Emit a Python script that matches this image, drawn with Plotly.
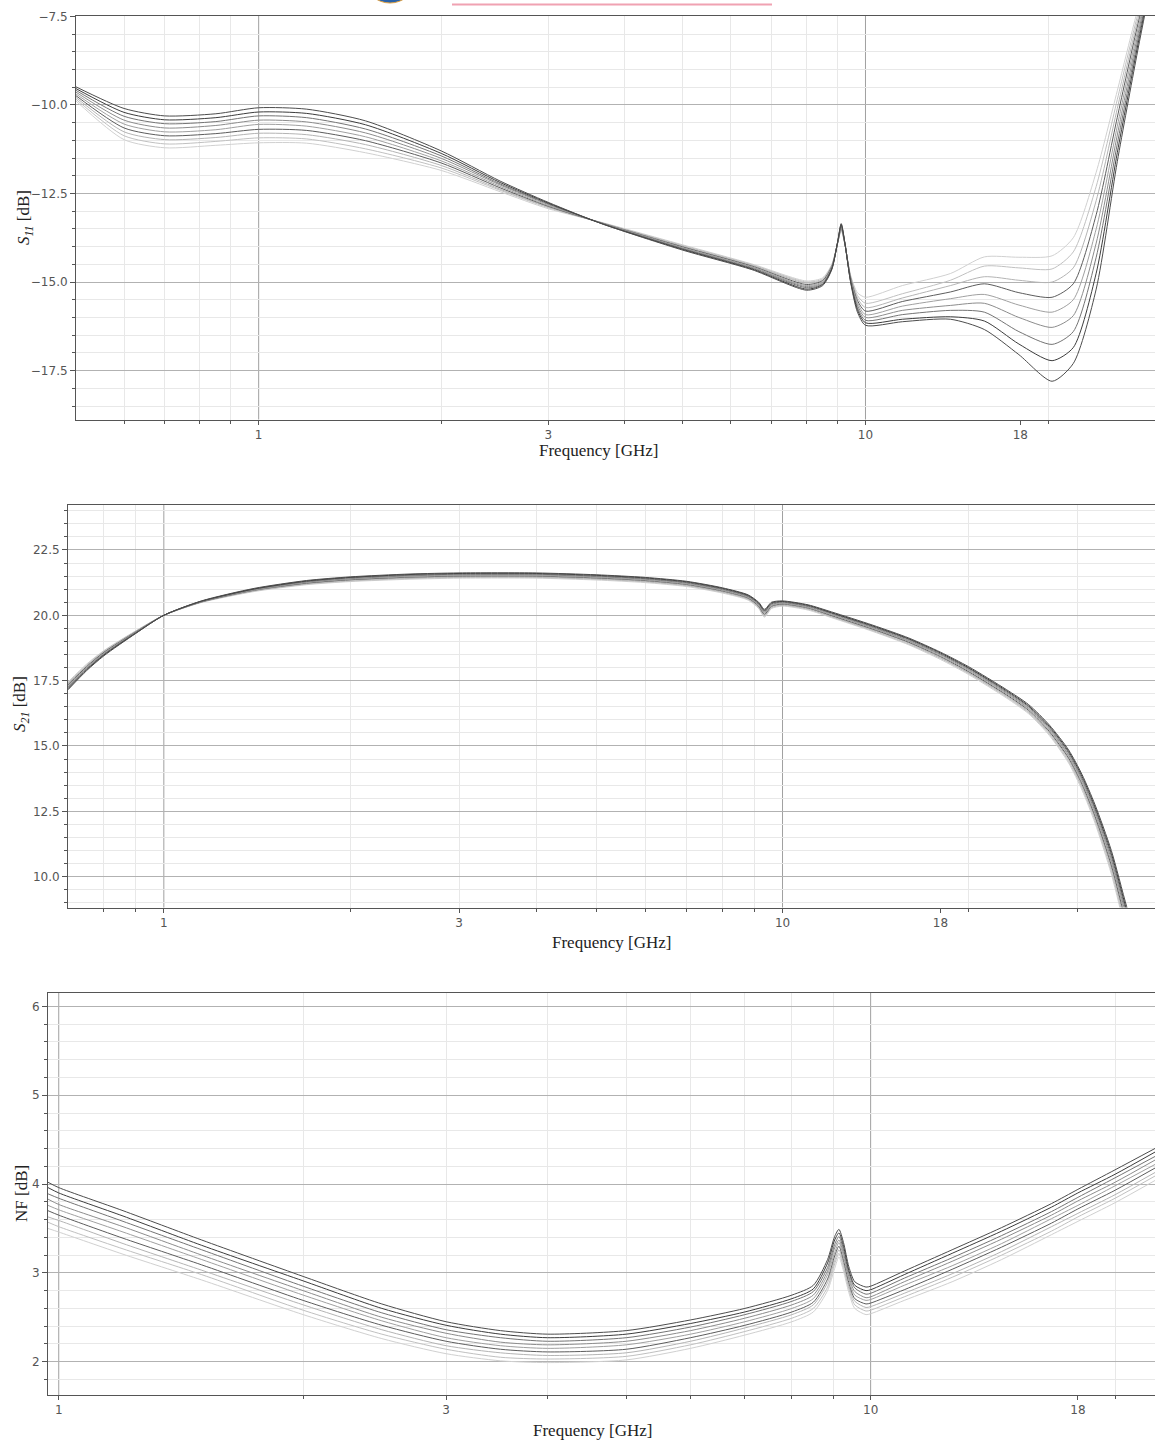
import numpy as np
import plotly.graph_objects as go

W, H = 1155, 1445

# ---------------- S11 data (GHz, dB) ----------------
f_s11 = [0.5, 0.6, 0.7, 0.85, 1.0, 1.2, 1.5, 2.0, 2.5, 3.0, 3.7, 5.0, 6.5, 8.0, 8.5, 8.8, 9.0, 9.12, 9.25,
         9.45, 9.7, 10.0, 11.5, 13.8, 15.7, 17.9, 20.3, 22.0, 24.0, 26.0, 28.0, 30.0]
s11_0 = [-9.89, -10.98, -11.21, -11.14, -11.07, -11.08, -11.35, -11.85, -12.45, -12.93, -13.33, -13.95, -14.49, -14.97, -14.88, -14.50, -13.90, -13.55, -13.95, -14.80, -15.30, -15.43, -15.10, -14.76, -14.29, -14.30, -14.26, -13.75, -11.90, -9.60, -7.40, -5.60]
s11_1 = [-9.84, -10.87, -11.10, -11.03, -10.93, -10.96, -11.24, -11.78, -12.41, -12.90, -13.34, -13.97, -14.51, -15.00, -14.91, -14.52, -13.90, -13.52, -13.94, -14.83, -15.38, -15.60, -15.33, -14.95, -14.55, -14.60, -14.63, -14.15, -12.30, -9.85, -7.55, -5.65]
s11_2 = [-9.79, -10.76, -10.98, -10.92, -10.80, -10.84, -11.12, -11.71, -12.38, -12.88, -13.34, -13.99, -14.53, -15.03, -14.94, -14.54, -13.89, -13.50, -13.94, -14.85, -15.45, -15.72, -15.45, -15.10, -14.85, -14.95, -15.00, -14.60, -12.70, -10.10, -7.70, -5.70]
s11_3 = [-9.74, -10.65, -10.87, -10.81, -10.69, -10.72, -11.01, -11.64, -12.34, -12.86, -13.35, -14.01, -14.55, -15.07, -14.96, -14.56, -13.89, -13.47, -13.93, -14.88, -15.52, -15.82, -15.55, -15.28, -15.05, -15.30, -15.43, -15.05, -13.10, -10.35, -7.85, -5.75]
s11_4 = [-9.69, -10.54, -10.76, -10.70, -10.55, -10.60, -10.90, -11.58, -12.30, -12.84, -13.35, -14.03, -14.57, -15.10, -14.99, -14.58, -13.88, -13.45, -13.92, -14.90, -15.58, -15.92, -15.68, -15.47, -15.35, -15.65, -15.85, -15.50, -13.50, -10.60, -8.00, -5.80]
s11_5 = [-9.64, -10.43, -10.65, -10.58, -10.43, -10.48, -10.79, -11.51, -12.26, -12.81, -13.36, -14.05, -14.59, -15.13, -15.02, -14.60, -13.87, -13.42, -13.92, -14.93, -15.65, -16.00, -15.80, -15.66, -15.60, -16.00, -16.28, -15.95, -13.90, -10.85, -8.15, -5.85]
s11_6 = [-9.59, -10.32, -10.53, -10.47, -10.31, -10.36, -10.68, -11.44, -12.23, -12.79, -13.36, -14.06, -14.61, -15.16, -15.05, -14.61, -13.87, -13.40, -13.91, -14.95, -15.72, -16.08, -15.92, -15.80, -15.85, -16.40, -16.76, -16.40, -14.30, -11.10, -8.30, -5.90]
s11_7 = [-9.54, -10.21, -10.42, -10.36, -10.20, -10.24, -10.56, -11.37, -12.19, -12.77, -13.37, -14.08, -14.63, -15.20, -15.07, -14.63, -13.86, -13.37, -13.91, -14.98, -15.78, -16.15, -16.05, -15.98, -16.10, -16.75, -17.22, -16.85, -14.75, -11.35, -8.45, -5.95]
s11_8 = [-9.49, -10.10, -10.31, -10.25, -10.08, -10.12, -10.45, -11.30, -12.15, -12.75, -13.37, -14.10, -14.65, -15.23, -15.10, -14.65, -13.85, -13.35, -13.90, -15.00, -15.85, -16.22, -16.12, -16.05, -16.34, -17.05, -17.80, -17.30, -15.20, -11.60, -8.60, -6.00]

# ---------------- S21 data ----------------
f_s21 = [0.7, 0.75, 0.8, 0.9, 1.0, 1.15, 1.4, 1.7, 2.0, 2.5, 3.0, 4.0, 5.0, 6.0, 7.0, 8.0, 8.8, 9.15, 9.35, 9.6,
         10.0, 11.0, 12.0, 14.0, 16.0, 18.0, 20.0, 23.0, 25.0, 27.0, 29.0, 30.5, 32.0, 34.0, 36.0, 38.0]
s21_0 = [17.45, 18.13, 18.65, 19.40, 20.00, 20.49, 20.91, 21.17, 21.29, 21.38, 21.42, 21.42, 21.35, 21.25, 21.10, 20.85, 20.58, 20.26, 19.93, 20.26, 20.35, 20.20, 19.91, 19.38, 18.87, 18.31, 17.73, 16.84, 16.23, 15.40, 14.35, 13.30, 12.05, 10.10, 7.75, 5.65]
s21_1 = [17.41, 18.09, 18.63, 19.39, 20.00, 20.50, 20.93, 21.19, 21.31, 21.41, 21.45, 21.45, 21.38, 21.28, 21.13, 20.88, 20.61, 20.29, 19.97, 20.29, 20.38, 20.23, 19.94, 19.41, 18.90, 18.35, 17.77, 16.88, 16.27, 15.45, 14.41, 13.38, 12.14, 10.21, 7.89, 5.81]
s21_2 = [17.38, 18.06, 18.60, 19.37, 20.00, 20.51, 20.94, 21.21, 21.34, 21.43, 21.47, 21.47, 21.40, 21.30, 21.15, 20.90, 20.63, 20.32, 20.00, 20.32, 20.40, 20.25, 19.96, 19.44, 18.94, 18.38, 17.80, 16.92, 16.31, 15.50, 14.48, 13.45, 12.23, 10.33, 8.03, 5.98]
s21_3 = [17.34, 18.03, 18.58, 19.36, 20.00, 20.51, 20.96, 21.23, 21.36, 21.46, 21.50, 21.50, 21.43, 21.33, 21.18, 20.93, 20.66, 20.35, 20.04, 20.35, 20.43, 20.28, 19.99, 19.47, 18.97, 18.42, 17.84, 16.96, 16.36, 15.55, 14.54, 13.53, 12.31, 10.44, 8.16, 6.14]
s21_4 = [17.30, 18.00, 18.55, 19.35, 20.00, 20.52, 20.97, 21.25, 21.38, 21.48, 21.52, 21.52, 21.45, 21.35, 21.20, 20.95, 20.68, 20.38, 20.08, 20.38, 20.45, 20.30, 20.02, 19.50, 19.00, 18.45, 17.88, 17.00, 16.40, 15.60, 14.60, 13.60, 12.40, 10.55, 8.30, 6.30]
s21_5 = [17.26, 17.97, 18.53, 19.34, 20.00, 20.53, 20.99, 21.27, 21.40, 21.51, 21.55, 21.55, 21.48, 21.38, 21.23, 20.98, 20.71, 20.41, 20.12, 20.41, 20.48, 20.33, 20.05, 19.53, 19.03, 18.49, 17.92, 17.04, 16.44, 15.65, 14.66, 13.68, 12.49, 10.66, 8.44, 6.46]
s21_6 = [17.23, 17.94, 18.50, 19.33, 20.00, 20.53, 21.00, 21.29, 21.43, 21.53, 21.57, 21.57, 21.50, 21.40, 21.25, 21.00, 20.73, 20.44, 20.16, 20.44, 20.50, 20.35, 20.08, 19.56, 19.07, 18.52, 17.96, 17.08, 16.49, 15.70, 14.73, 13.75, 12.58, 10.78, 8.58, 6.63]
s21_7 = [17.19, 17.91, 18.48, 19.31, 20.00, 20.54, 21.01, 21.31, 21.45, 21.56, 21.60, 21.60, 21.53, 21.43, 21.28, 21.03, 20.76, 20.47, 20.19, 20.47, 20.53, 20.38, 20.10, 19.59, 19.10, 18.56, 17.99, 17.12, 16.53, 15.75, 14.79, 13.83, 12.66, 10.89, 8.71, 6.79]
s21_8 = [17.15, 17.88, 18.45, 19.30, 20.00, 20.55, 21.03, 21.33, 21.47, 21.58, 21.62, 21.62, 21.55, 21.45, 21.30, 21.05, 20.78, 20.50, 20.23, 20.50, 20.55, 20.40, 20.13, 19.62, 19.13, 18.59, 18.03, 17.16, 16.58, 15.80, 14.85, 13.90, 12.75, 11.00, 8.85, 6.95]

# ---------------- NF data ----------------
f_nf = [0.97, 1.0, 1.2, 1.5, 2.0, 2.5, 3.0, 3.5, 4.0, 5.0, 6.0, 7.0, 8.0, 8.5, 8.85, 9.03, 9.14, 9.26, 9.4,
        9.56, 9.87, 10.0, 11.0, 12.6, 14.5, 16.7, 18.0, 20.0, 22.5]
nf_0 = [3.50, 3.46, 3.21, 2.92, 2.53, 2.26, 2.09, 2.01, 1.99, 2.02, 2.15, 2.30, 2.45, 2.56, 2.80, 3.05, 3.18, 3.02, 2.78, 2.60, 2.53, 2.54, 2.69, 2.90, 3.15, 3.43, 3.58, 3.79, 4.05]
nf_1 = [3.57, 3.52, 3.27, 2.98, 2.58, 2.31, 2.14, 2.05, 2.03, 2.06, 2.19, 2.34, 2.49, 2.60, 2.84, 3.10, 3.22, 3.06, 2.82, 2.64, 2.57, 2.58, 2.73, 2.95, 3.20, 3.47, 3.63, 3.84, 4.10]
nf_2 = [3.63, 3.59, 3.33, 3.03, 2.64, 2.36, 2.18, 2.10, 2.07, 2.10, 2.23, 2.38, 2.53, 2.64, 2.89, 3.14, 3.26, 3.10, 2.85, 2.68, 2.61, 2.62, 2.77, 2.99, 3.24, 3.52, 3.67, 3.88, 4.14]
nf_3 = [3.70, 3.65, 3.39, 3.09, 2.69, 2.41, 2.23, 2.14, 2.11, 2.14, 2.27, 2.41, 2.56, 2.67, 2.93, 3.19, 3.30, 3.14, 2.89, 2.71, 2.65, 2.66, 2.81, 3.04, 3.29, 3.56, 3.72, 3.93, 4.19]
nf_4 = [3.76, 3.71, 3.46, 3.15, 2.75, 2.46, 2.27, 2.18, 2.15, 2.19, 2.31, 2.45, 2.60, 2.71, 2.98, 3.23, 3.34, 3.18, 2.93, 2.75, 2.69, 2.70, 2.86, 3.08, 3.33, 3.61, 3.76, 3.98, 4.23]
nf_5 = [3.83, 3.77, 3.52, 3.20, 2.80, 2.50, 2.32, 2.22, 2.19, 2.23, 2.35, 2.49, 2.64, 2.75, 3.02, 3.28, 3.37, 3.22, 2.96, 2.79, 2.72, 2.73, 2.90, 3.13, 3.38, 3.65, 3.81, 4.02, 4.28]
nf_6 = [3.89, 3.84, 3.58, 3.26, 2.85, 2.55, 2.36, 2.27, 2.23, 2.27, 2.39, 2.53, 2.68, 2.79, 3.06, 3.32, 3.41, 3.26, 3.00, 2.83, 2.76, 2.77, 2.94, 3.17, 3.42, 3.69, 3.85, 4.07, 4.32]
nf_7 = [3.96, 3.90, 3.64, 3.31, 2.91, 2.60, 2.41, 2.31, 2.27, 2.31, 2.43, 2.56, 2.71, 2.82, 3.11, 3.37, 3.45, 3.30, 3.03, 2.86, 2.80, 2.81, 2.98, 3.22, 3.47, 3.74, 3.90, 4.11, 4.37]
nf_8 = [4.02, 3.96, 3.70, 3.37, 2.96, 2.65, 2.45, 2.35, 2.31, 2.35, 2.47, 2.60, 2.75, 2.86, 3.15, 3.41, 3.49, 3.34, 3.07, 2.90, 2.84, 2.85, 3.02, 3.26, 3.51, 3.78, 3.94, 4.16, 4.41]

# tick labels
x_major = [1, 3, 10, 18]
x_major_text = ["1", "3", "10", "18"]
s11_ticks = [-17.5, -15.0, -12.5, -10.0, -7.5]
s11_text = ["\u221217.5", "\u221215.0", "\u221212.5", "\u221210.0", "\u22127.5"]
s21_ticks = [10.0, 12.5, 15.0, 17.5, 20.0, 22.5]
s21_text = ["10.0", "12.5", "15.0", "17.5", "20.0", "22.5"]
nf_ticks = [2, 3, 4, 5, 6]
nf_text = ["2", "3", "4", "5", "6"]

colors = ['#d0d0d0', '#c0c0c0', '#b4b4b4', '#5c5c5c', '#a0a0a0', '#8c8c8c', '#747474', '#3c3c3c', '#4c4c4c']

s11_curves = [s11_0, s11_1, s11_2, s11_3, s11_4, s11_5, s11_6, s11_7, s11_8]
s21_curves = [s21_0, s21_1, s21_2, s21_3, s21_4, s21_5, s21_6, s21_7, s21_8]
nf_curves = [nf_0, nf_1, nf_2, nf_3, nf_4, nf_5, nf_6, nf_7, nf_8]

fig = go.Figure()
for xs, curves, xa, ya in [(f_s11, s11_curves, 'x', 'y'), (f_s21, s21_curves, 'x2', 'y2'), (f_nf, nf_curves, 'x3', 'y3')]:
    for i, ys in enumerate(curves):
        fig.add_trace(go.Scatter(x=xs, y=ys, mode='lines', xaxis=xa, yaxis=ya,
                                 line=dict(color=colors[i], width=1, shape='spline', smoothing=0.7),
                                 showlegend=False, hoverinfo='skip'))

AX = '#555555'
tick_font = dict(family='DejaVu Sans', size=12, color='#555555')
title_font = dict(family='Liberation Serif', size=17, color='#222222')


def py(p):
    return 1 - p / H


def xcfg(x0px, rng, minor_vals, anchor):
    return dict(type='log', domain=[x0px / W, 1.0], range=[np.log10(rng[0]), np.log10(rng[1])], anchor=anchor,
                tickmode='array', tickvals=x_major, ticktext=x_major_text, ticks='outside', ticklen=4,
                tickcolor=AX, showgrid=False, showline=True, linecolor=AX, linewidth=1, mirror=True,
                tickfont=tick_font, zeroline=False, fixedrange=True, automargin=False,
                minor=dict(tickmode='array', tickvals=minor_vals, ticks='outside', ticklen=3, tickcolor=AX,
                           showgrid=True, gridcolor='#e8e8e8', gridwidth=1))


def ycfg(top, bot, rng, tv, tt, minor_vals, anchor):
    return dict(domain=[py(bot), py(top)], range=rng, anchor=anchor, tickmode='array', tickvals=tv, ticktext=tt,
                ticks='outside', ticklen=5, tickcolor=AX, showgrid=True, gridcolor='#b2b2b2', gridwidth=1,
                showline=True, linecolor=AX, linewidth=1, tickfont=tick_font, zeroline=False, fixedrange=True,
                automargin=False,
                minor=dict(tickmode='array', tickvals=minor_vals, ticks='outside', ticklen=3, tickcolor=AX,
                           showgrid=True, gridcolor='#e8e8e8', gridwidth=1))


minor_s11 = [0.6, 0.7, 0.8, 0.9, 2, 3, 4, 5, 6, 7, 8, 9, 20, 30]
minor_s21 = [0.8, 0.9, 2, 3, 4, 5, 6, 7, 8, 9, 20, 30, 40]
minor_nf = [2, 3, 4, 5, 6, 7, 8, 9, 20]

y_minor_s11 = [float(v) for v in np.round(np.arange(-19.0, -7.4, 0.5), 2)]
y_minor_s21 = [float(v) for v in np.round(np.arange(9.0, 24.3, 0.5), 2)]
y_minor_nf = [float(v) for v in np.round(np.arange(1.8, 6.2, 0.2), 2)]

fig.update_layout(
    template='none',
    width=W, height=H, margin=dict(l=0, r=0, t=0, b=0, pad=0), autosize=False,
    paper_bgcolor='white', plot_bgcolor='white', hovermode=False, showlegend=False,
    xaxis=xcfg(76, [0.5, 30.0], minor_s11, 'y'),
    yaxis=ycfg(16, 419.5, [-18.88, -7.49], s11_ticks, s11_text, y_minor_s11, 'x'),
    xaxis2=xcfg(68, [0.7, 40.0], minor_s21, 'y2'),
    yaxis2=ycfg(505, 907.5, [8.82, 24.22], s21_ticks, s21_text, y_minor_s21, 'x2'),
    xaxis3=xcfg(48, [0.97, 22.4], minor_nf, 'y3'),
    yaxis3=ycfg(993, 1395, [1.625, 6.151], nf_ticks, nf_text, y_minor_nf, 'x3'),
)

shapes = []
for xa, ya in [('x', 'y'), ('x2', 'y2'), ('x3', 'y3')]:
    for xv in [1, 10]:
        shapes.append(dict(type='line', xref=xa, yref=ya + ' domain', x0=xv, x1=xv, y0=0, y1=1,
                           line=dict(color='#a0a0a0', width=1), layer='below'))
# remnants of a logo / underline at the very top of the page
shapes.append(dict(type='line', xref='paper', yref='paper', x0=452 / W, x1=772 / W, y0=py(4.5), y1=py(4.5),
                   line=dict(color='#f0a2b2', width=2)))
shapes.append(dict(type='circle', xref='paper', yref='paper', x0=366 / W, x1=414 / W, y0=py(3), y1=py(-40),
                   fillcolor='#2a62a8', line=dict(color='#e0a040', width=1)))
fig.update_layout(shapes=shapes)


def ann(text, xpx, ypx, angle=0):
    return dict(text=text, x=xpx / W, y=py(ypx), xref='paper', yref='paper', showarrow=False,
                xanchor='center', yanchor='middle', textangle=angle, font=title_font)


annotations = [
    ann('Frequency [GHz]', 598, 450),
    ann('Frequency [GHz]', 611, 942),
    ann('Frequency [GHz]', 592, 1430),
    ann('<i>S</i><sub><i>11</i></sub> [dB]', 25, 218, -90),
    ann('<i>S</i><sub><i>21</i></sub> [dB]', 21, 704, -90),
    ann('NF [dB]', 21, 1194, -90),
]
fig.update_layout(annotations=annotations)

fig.write_html("out.html")
